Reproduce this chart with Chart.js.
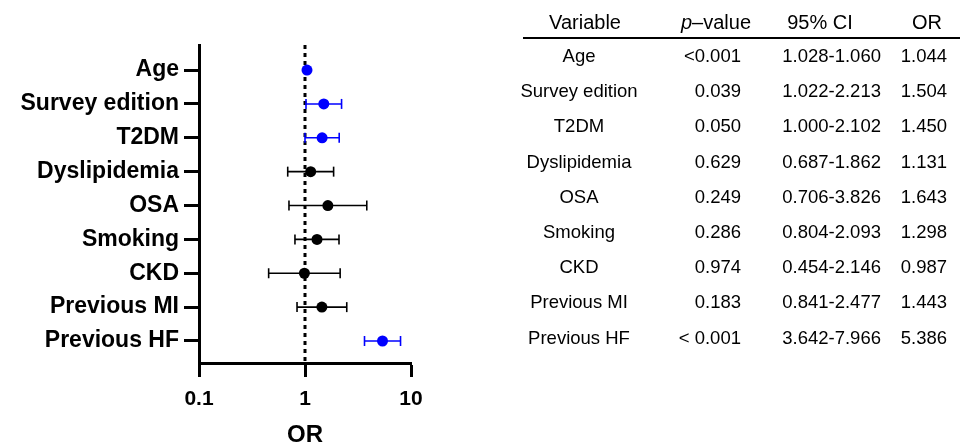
<!DOCTYPE html>
<html>
<head>
<meta charset="utf-8">
<script src="https://cdn.jsdelivr.net/npm/chart.js@4"></script>
<style>
  html, body { margin: 0; padding: 0; background: #fff; }
  body { width: 960px; height: 445px; position: relative; overflow: hidden;
         font-family: "Liberation Sans", Arial, sans-serif; color: #000; }
  #plotBox { position: absolute; left: 0; top: 0; width: 470px; height: 445px; }
  #table { position: absolute; left: 0; top: 0; width: 960px; height: 445px; }
  .cell { position: absolute; white-space: nowrap; line-height: 1; transform: translateY(-50%); }
  .hdr { font-size: 20px; }
  .row { font-size: 18.5px; }
  #rule { position: absolute; left: 523px; top: 37px; width: 437px; height: 2px; background: #000; }
</style>
</head>
<body>
<div id="plotBox"><canvas id="forest"></canvas></div>
<div id="table"><div id="rule"></div></div>
<script>
// Forest plot data (odds ratios with 95% CI)
const categories = ['Age', 'Survey edition', 'T2DM', 'Dyslipidemia', 'OSA', 'Smoking', 'CKD', 'Previous MI', 'Previous HF'];
const oddsRatios = [1.044, 1.504, 1.450, 1.131, 1.643, 1.298, 0.987, 1.443, 5.386];
const ciLower = [1.028, 1.022, 1.000, 0.687, 0.706, 0.804, 0.454, 0.841, 3.642];
const ciUpper = [1.060, 2.213, 2.102, 1.862, 3.826, 2.093, 2.146, 2.477, 7.966];
const pValues = ['<0.001', '0.039', '0.050', '0.629', '0.249', '0.286', '0.974', '0.183', '< 0.001'];
const significant = [true, true, true, false, false, false, false, false, true];
const xTicks = [0.1, 1, 10];

const BLUE = '#0000ff';
const BLACK = '#000000';
const colors = significant.map(s => s ? BLUE : BLACK);

// Whiskers: one small line dataset per row, caps drawn as rotated 'line' points
const whiskerSets = categories.map((c, i) => ({
    data: [{ x: ciLower[i], y: i }, { x: ciUpper[i], y: i }],
    showLine: true,
    borderColor: colors[i],
    borderWidth: 1.6,
    pointStyle: 'line',
    rotation: 90,
    pointRadius: 5,
    pointBorderWidth: 1.6,
    pointBorderColor: colors[i],
    order: 1
}));

const yMin = -0.74;
const yMax = 8.65;

const refLine = {
    data: [{ x: 1, y: yMin }, { x: 1, y: yMax }],
    showLine: true,
    borderColor: BLACK,
    borderWidth: 3,
    borderDash: [4, 4],
    pointRadius: 0,
    order: 2
};

const pointSet = {
    data: oddsRatios.map((v, i) => ({ x: v, y: i })),
    backgroundColor: colors,
    borderColor: colors,
    pointRadius: 5.5,
    pointBorderWidth: 0,
    order: 0
};

const tickFont = { family: '"Liberation Sans", Arial, sans-serif', weight: 'bold', size: 23 };

new Chart(document.getElementById('forest').getContext('2d'), {
    type: 'scatter',
    data: { datasets: [pointSet, ...whiskerSets, refLine] },
    options: {
        responsive: true,
        maintainAspectRatio: false,
        animation: false,
        events: [],
        clip: false,
        layout: { padding: { top: 45, right: 59, bottom: 0, left: 0 } },
        plugins: { legend: { display: false }, tooltip: { enabled: false } },
        scales: {
            x: {
                type: 'logarithmic',
                min: 0.1,
                max: 10,
                afterBuildTicks: scale => { scale.ticks = xTicks.map(v => ({ value: v })); },
                afterFit: scale => { scale.height = 82; },
                ticks: {
                    color: BLACK,
                    font: { ...tickFont, size: 21 },
                    padding: 10,
                    maxRotation: 0,
                    callback: v => String(v)
                },
                grid: { drawOnChartArea: false, tickLength: 14, tickWidth: 3, tickColor: BLACK },
                border: { display: true, width: 3, color: BLACK },
                title: {
                    display: true,
                    text: 'OR',
                    color: BLACK,
                    font: { ...tickFont, size: 24, lineHeight: 1 },
                    padding: { top: 0, bottom: -2 }
                }
            },
            y: {
                type: 'linear',
                reverse: true,
                min: yMin,
                max: yMax,
                afterBuildTicks: scale => { scale.ticks = categories.map((c, i) => ({ value: i })); },
                afterFit: scale => { scale.width = 199; },
                ticks: {
                    color: BLACK,
                    font: tickFont,
                    padding: 5,
                    callback: v => categories[v]
                },
                grid: { drawOnChartArea: false, tickLength: 15, tickWidth: 3, tickColor: BLACK },
                border: { display: true, width: 3, color: BLACK }
            }
        }
    }
});

// Results table on the right
const table = document.getElementById('table');
function addCell(text, cls, x, y, align, html) {
    const d = document.createElement('div');
    d.className = 'cell ' + cls;
    if (html) d.innerHTML = text; else d.textContent = text;
    d.style.top = y + 'px';
    if (align === 'center') {
        d.style.left = x + 'px';
        d.style.transform = 'translate(-50%, -50%)';
    } else {
        d.style.right = (960 - x) + 'px';
    }
    table.appendChild(d);
}

addCell('Variable', 'hdr', 585, 22, 'center');
addCell('<i>p</i>–value', 'hdr', 716, 22, 'center', true);
addCell('95% CI', 'hdr', 820, 22, 'center');
addCell('OR', 'hdr', 927, 22, 'center');

categories.forEach((c, i) => {
    const y = 56 + 35.2 * i;
    addCell(c, 'row', 579, y, 'center');
    addCell(pValues[i], 'row', 741, y, 'right');
    addCell(ciLower[i].toFixed(3) + '-' + ciUpper[i].toFixed(3), 'row', 881, y, 'right');
    addCell(oddsRatios[i].toFixed(3), 'row', 947, y, 'right');
});
</script>
</body>
</html>
